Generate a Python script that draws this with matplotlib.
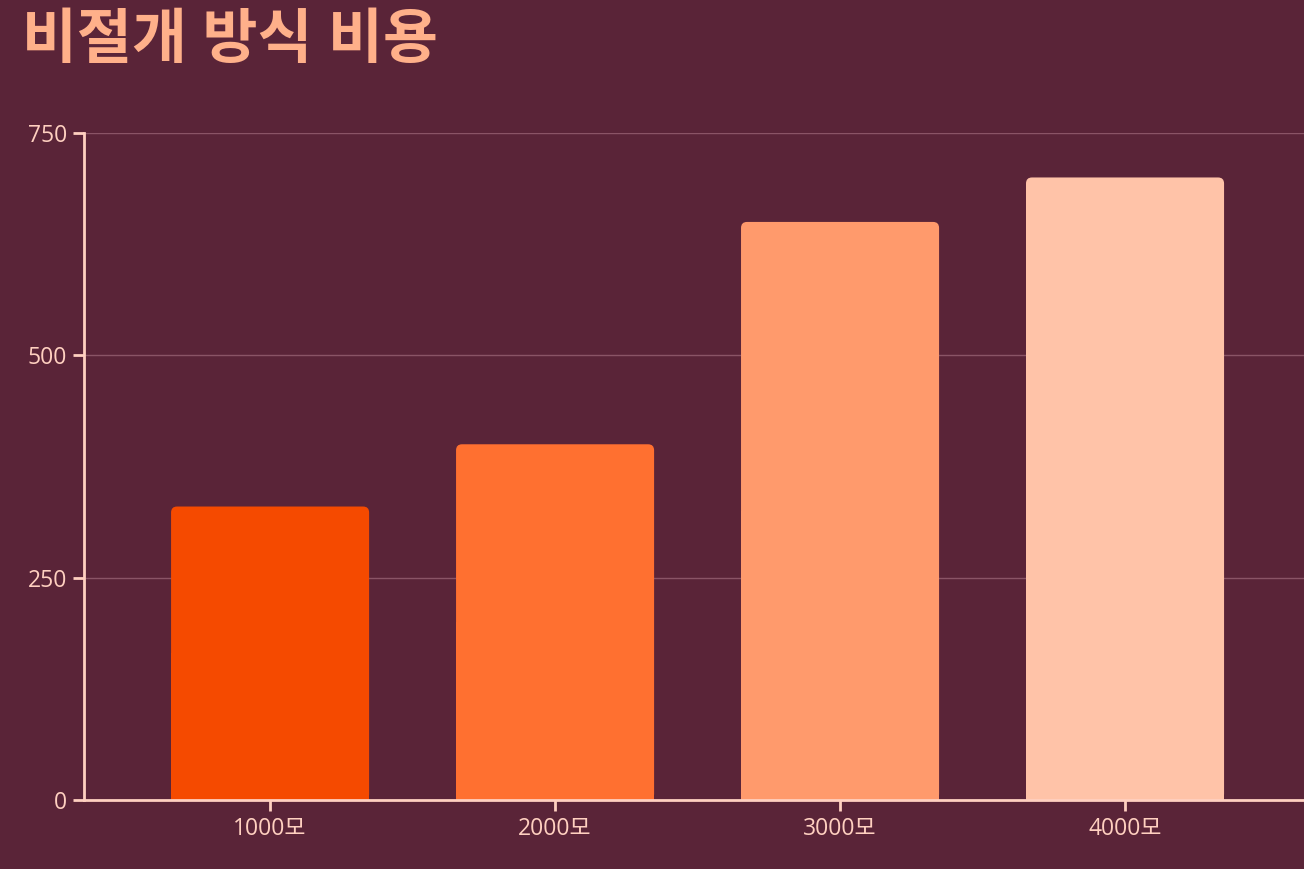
import matplotlib
matplotlib.use("Agg")
import matplotlib.pyplot as plt
from matplotlib.patches import FancyBboxPatch, Rectangle

# data
categories = ["1000모", "2000모", "3000모", "4000모"]
costs = [330, 400, 650, 700]
bar_colors = ["#f54a00", "#ff7030", "#ff9a6c", "#ffc3a8"]
y_ticks = [0, 250, 500, 750]

bg = "#5a2438"
fg = "#ffd0c0"

plt.rcParams['font.family'] = ['Open Sans', 'Noto Sans CJK KR', 'DejaVu Sans']

fig = plt.figure(figsize=(13.04, 8.69), dpi=100, facecolor=bg)
ax = fig.add_axes([84 / 1304, 1 - 800 / 869, 1 - 84 / 1304, (800 - 133) / 869])
ax.set_facecolor(bg)

xs = list(range(len(categories)))
bars = ax.bar(xs, costs, width=0.695, color=bar_colors)
ax.set_xlim(-0.653, 3.628)
ax.set_ylim(0, 750)

# swap plain bars for ones with rounded tops
px_x = 1220 / (3.628 + 0.653)
px_y = 667 / 750
for b in bars:
    x, w, h, c = b.get_x(), b.get_width(), b.get_height(), b.get_facecolor()
    b.set_visible(False)
    r = 6 / px_x
    ax.add_patch(FancyBboxPatch((x, 0), w, h, boxstyle=f"round,pad=0,rounding_size={r}",
                                mutation_aspect=px_x / px_y, fc=c, ec="none", zorder=2))
    ax.add_patch(Rectangle((x, 0), w, h / 2, fc=c, ec="none", zorder=2))

ax.set_xticks(xs)
ax.set_xticklabels(categories)
ax.set_yticks(y_ticks)
ax.grid(axis="y", color="#8a5466", linewidth=1, zorder=0)
ax.set_axisbelow(True)

for s in ["top", "right"]:
    ax.spines[s].set_visible(False)
for s in ["left", "bottom"]:
    ax.spines[s].set_color(fg)
    ax.spines[s].set_linewidth(2)
ax.tick_params(colors=fg, labelcolor=fg, labelsize=16.5, width=2, length=8, pad=4)

fig.text(22 / 1304, 1 - 12 / 869, "비절개 방식 비용", color="#ffb08a", fontsize=43,
         fontweight="bold", ha="left", va="top")

fig.savefig("out.png", dpi=100, facecolor=bg)
